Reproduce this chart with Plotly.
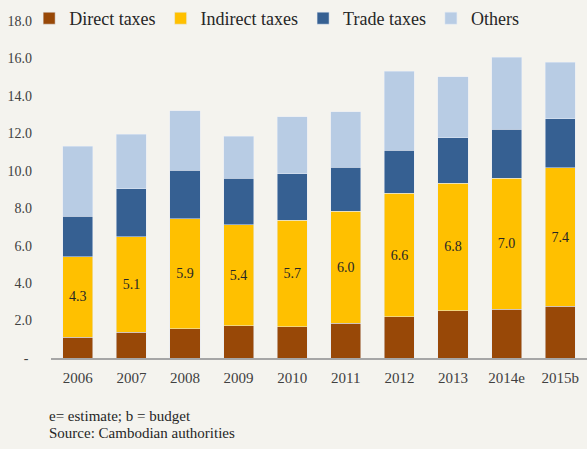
import plotly.graph_objects as go

years = ["2006", "2007", "2008", "2009", "2010", "2011", "2012", "2013", "2014e", "2015b"]
direct = [1.11, 1.37, 1.55, 1.73, 1.67, 1.85, 2.19, 2.53, 2.60, 2.76]
indirect = [4.3, 5.1, 5.9, 5.4, 5.7, 6.0, 6.6, 6.8, 7.0, 7.4]
trade = [2.17, 2.56, 2.59, 2.48, 2.46, 2.33, 2.30, 2.42, 2.62, 2.61]
others = [3.74, 2.91, 3.16, 2.23, 3.06, 2.96, 4.22, 3.27, 3.83, 3.03]

y_ticks = [0, 2, 4, 6, 8, 10, 12, 14, 16, 18]
y_labels = ["-\u00a0"] + [f"{v:.1f}" for v in y_ticks[1:]]   # accounting-style dash for zero

FONT = "Liberation Serif, Times New Roman, serif"
BG = "#F4F3EE"
INK = "#404040"

fig = go.Figure()
fig.add_bar(x=years, y=direct, name="Direct taxes", marker_color="#984807")
fig.add_bar(x=years, y=indirect, name="Indirect taxes", marker_color="#FFC000",
            text=[f"{v:.1f}" for v in indirect], textposition="inside",
            insidetextanchor="middle", textangle=0,
            textfont=dict(family=FONT, size=14, color="#262626"))
fig.add_bar(x=years, y=trade, name="Trade taxes", marker_color="#366092")
fig.add_bar(x=years, y=others, name="Others", marker_color="#B8CCE4")

# plot area runs to the top edge so the legend sits inside it (no margin push);
# the extra headroom above 18.0 keeps the 0..18 scale where the original has it
fig.update_layout(
    barmode="stack",
    bargap=0.44,
    width=587, height=449,
    margin=dict(l=51, r=0, t=0, b=91),
    paper_bgcolor=BG, plot_bgcolor=BG,
    font=dict(family=FONT, size=14, color=INK),
    legend=dict(orientation="h", x=0.421, xanchor="center", y=1.0, yanchor="top",
                font=dict(family=FONT, size=18, color="#262626"),
                bgcolor="rgba(0,0,0,0)", traceorder="normal"),
    uniformtext=dict(mode="show", minsize=10),
)
fig.update_xaxes(showline=True, linecolor="#A6A6A6", linewidth=1.5, showgrid=False,
                 ticks="", tickfont=dict(size=15), ticklabelstandoff=5)
fig.update_yaxes(range=[0, 19.12], tickvals=y_ticks, ticktext=y_labels, showgrid=False,
                 zeroline=False, showline=False, ticklabelstandoff=18,
                 tickfont=dict(size=14))

fig.add_annotation(text="e= estimate; b = budget", xref="paper", yref="paper",
                   x=-0.0075, y=-0.163, xanchor="left", yanchor="middle",
                   showarrow=False, font=dict(size=15, color="#262626"))
fig.add_annotation(text="Source: Cambodian authorities", xref="paper", yref="paper",
                   x=-0.0075, y=-0.2095, xanchor="left", yanchor="middle",
                   showarrow=False, font=dict(size=15, color="#262626"))

# drop the browser's default body margin so the figure sits at the window corner
fig.write_html("out.html", config={"displayModeBar": False},
               post_script="document.body.style.margin='0';")
